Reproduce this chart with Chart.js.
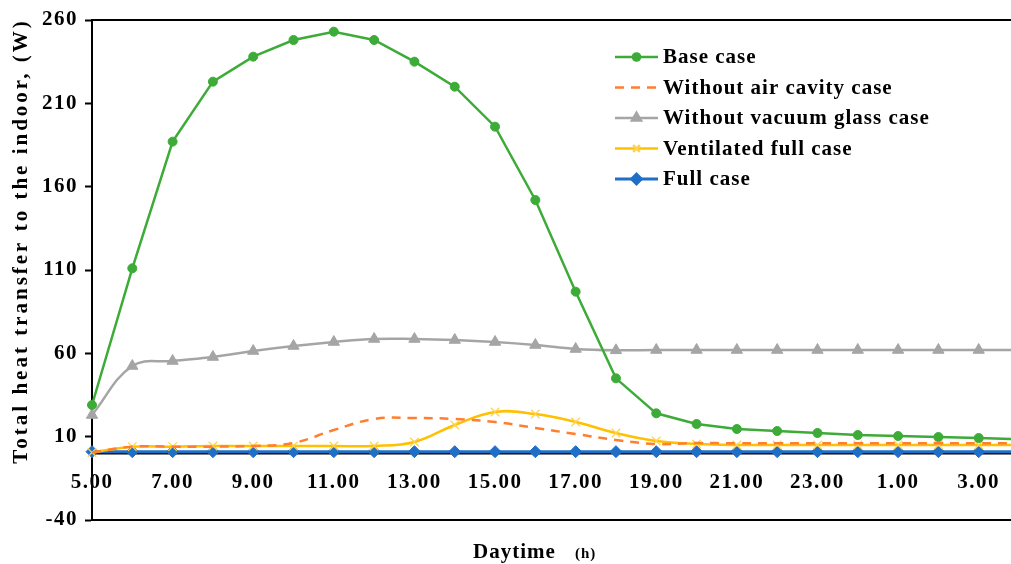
<!DOCTYPE html>
<html>
<head>
  <meta charset="UTF-8">
  <title>Total heat transfer to the indoor</title>
  <script src="https://cdn.jsdelivr.net/npm/chart.js"></script>
  <style>
    body {
      margin: 0;
      background: #fff;
      overflow: hidden;
    }
    #wrap {
      width: 1036px;
      height: 564px;
    }
  </style>
</head>
<body>
  <div id="wrap"><canvas id="chart" width="1036" height="564"></canvas></div>

  <script>
    // hourly points, 5.00 through 4.00 next morning
    const hours = ['5.00', '6.00', '7.00', '8.00', '9.00', '10.00', '11.00', '12.00', '13.00', '14.00',
      '15.00', '16.00', '17.00', '18.00', '19.00', '20.00', '21.00', '22.00', '23.00', '0.00',
      '1.00', '2.00', '3.00', '4.00'];

    const baseCase = [29, 111, 187, 223, 238, 248, 253, 248, 235, 220, 196, 152,
      97, 45, 24, 17.6, 14.6, 13.4, 12.2, 11, 10.4, 9.8, 9.2, 8.5];
    const noAirCavity = [0.5, 4, 4, 4, 4.4, 6.2, 14, 20.6, 21.2, 20.6, 18.8, 15.2,
      11.6, 8, 5.6, 6.2, 6, 6, 6, 6, 6, 6, 6, 6];
    const noVacuumGlass = [23, 52.4, 55.4, 57.8, 61.4, 64.4, 66.8, 68.6, 68.6, 68, 66.8, 65,
      62.6, 61.8, 62, 62, 62, 62, 62, 62, 62, 62, 62, 62];
    const ventilatedFull = [0.5, 4, 4, 4.4, 4.4, 4.4, 4.4, 4.4, 6.8, 17, 24.8, 23.6,
      18.8, 12.2, 7.4, 5.6, 5, 5, 5, 5, 5, 5, 5, 5];
    const fullCase = [1, 1, 1, 1, 1, 1, 1, 1, 1, 1, 1, 1,
      1, 1, 1, 1, 1, 1, 1, 1, 1, 1, 1, 1];

    const yTicks = { min: -40, max: 260, step: 50 };
    const yTitle = 'Total heat transfer to the indoor, (W)';
    const serif = '"Liberation Serif", "Times New Roman", serif';

    // the original uses wide, slightly spaced Times lettering
    const spacingPlugin = {
      id: 'spacing',
      beforeDraw(chart) { chart.ctx.letterSpacing = '1.5px'; },
      afterDraw(chart) { chart.ctx.letterSpacing = '0px'; }
    };

    // top and bottom frame lines of the plot box
    const framePlugin = {
      id: 'frame',
      beforeDatasetsDraw(chart) {
        const { ctx, chartArea } = chart;
        ctx.save();
        ctx.strokeStyle = '#000';
        ctx.lineWidth = 2;
        ctx.beginPath();
        ctx.moveTo(chartArea.left, chartArea.top);
        ctx.lineTo(chart.width, chartArea.top);
        ctx.moveTo(chartArea.left, chartArea.bottom);
        ctx.lineTo(chart.width, chartArea.bottom);
        ctx.stroke();
        ctx.restore();
      }
    };

    // legend box drawn inside the plot, top right
    const legendPlugin = {
      id: 'innerLegend',
      afterDraw(chart) {
        const { ctx, chartArea } = chart;
        const x0 = chartArea.left + 523;
        chart.data.datasets.forEach((ds, i) => {
          const y = chartArea.top + 37 + i * 30.5;
          ctx.save();
          ctx.strokeStyle = ds.borderColor;
          ctx.lineWidth = ds.borderWidth;
          ctx.setLineDash(ds.borderDash || []);
          ctx.beginPath();
          ctx.moveTo(x0, y);
          ctx.lineTo(x0 + 43, y);
          ctx.stroke();
          ctx.setLineDash([]);
          if (ds.pointRadius > 0) {
            ctx.fillStyle = ds.pointBackgroundColor;
            ctx.strokeStyle = ds.pointBorderColor;
            Chart.helpers.drawPoint(ctx, {
              pointStyle: ds.pointStyle,
              radius: ds.pointRadius * 0.8,
              borderWidth: ds.pointBorderWidth,
              rotation: 0
            }, x0 + 21.5, y);
          }
          ctx.fillStyle = '#000';
          ctx.font = 'bold 21px ' + serif;
          ctx.letterSpacing = '1px';
          ctx.textAlign = 'left';
          ctx.textBaseline = 'middle';
          ctx.fillText(ds.label, x0 + 48, y + 1);
          ctx.restore();
        });
      }
    };

    // axis titles
    const titlePlugin = {
      id: 'titles',
      afterDraw(chart) {
        const ctx = chart.ctx;
        ctx.save();
        ctx.fillStyle = '#000';
        ctx.font = 'bold 21px ' + serif;
        ctx.letterSpacing = '3px';
        ctx.textAlign = 'center';
        ctx.textBaseline = 'middle';
        ctx.translate(22, 241);
        ctx.rotate(-Math.PI / 2);
        ctx.fillText(yTitle, 0, 0);
        ctx.restore();

        ctx.save();
        ctx.fillStyle = '#000';
        ctx.textAlign = 'left';
        ctx.textBaseline = 'alphabetic';
        ctx.letterSpacing = '1px';
        ctx.font = 'bold 21px ' + serif;
        ctx.fillText('Daytime', 473, 558);
        ctx.font = 'bold 15px ' + serif;
        ctx.fillText('(h)', 575, 558);
        ctx.restore();
      }
    };

    const ctx = document.getElementById('chart').getContext('2d');
    new Chart(ctx, {
      type: 'line',
      data: {
        labels: hours,
        datasets: [
          {
            label: 'Base case',
            data: baseCase,
            borderColor: '#3dab37',
            borderWidth: 2.5,
            pointStyle: 'circle',
            pointRadius: 4.5,
            pointBackgroundColor: '#3dab37',
            pointBorderColor: '#3dab37',
            pointBorderWidth: 1,
            tension: 0
          },
          {
            label: 'Without air cavity case',
            data: noAirCavity,
            borderColor: '#ff7f2e',
            borderWidth: 2.5,
            borderDash: [9, 7],
            pointRadius: 0,
            tension: 0.4
          },
          {
            label: 'Without vacuum glass case',
            data: noVacuumGlass,
            borderColor: '#a5a5a5',
            borderWidth: 2.5,
            pointStyle: 'triangle',
            pointRadius: 6.5,
            pointBackgroundColor: '#a5a5a5',
            pointBorderColor: '#a5a5a5',
            pointBorderWidth: 1,
            tension: 0.4
          },
          {
            label: 'Ventilated full case',
            data: ventilatedFull,
            borderColor: '#ffc000',
            borderWidth: 2.5,
            pointStyle: 'crossRot',
            pointRadius: 6,
            pointBackgroundColor: '#ffd24d',
            pointBorderColor: '#ffd24d',
            pointBorderWidth: 1.2,
            tension: 0.4
          },
          {
            label: 'Full case',
            data: fullCase,
            borderColor: '#1f6fc8',
            borderWidth: 3,
            pointStyle: 'rectRot',
            pointRadius: 6,
            pointBackgroundColor: '#1f6fc8',
            pointBorderColor: '#1f6fc8',
            pointBorderWidth: 1,
            tension: 0
          }
        ]
      },
      options: {
        responsive: false,
        animation: false,
        devicePixelRatio: 1,
        layout: {
          autoPadding: false,
          padding: { left: 0, top: 20, right: 5, bottom: 44 }
        },
        plugins: {
          legend: { display: false },
          tooltip: { enabled: false }
        },
        scales: {
          x: {
            type: 'category',
            position: { y: 0 },
            offset: false,
            grid: { display: true, drawOnChartArea: false, drawTicks: false },
            border: { display: true, color: '#000', width: 2.5 },
            ticks: {
              autoSkip: false,
              maxRotation: 0,
              padding: 17,
              color: '#000',
              font: { family: serif, size: 21, weight: 'bold' },
              callback: (v, i) => (i % 2 === 0 ? hours[i] : '')
            }
          },
          y: {
            min: yTicks.min,
            max: yTicks.max,
            afterFit: (scale) => { scale.width = 92; },
            grid: {
              display: true,
              drawOnChartArea: false,
              drawTicks: true,
              tickLength: 7,
              tickWidth: 2,
              tickColor: '#000'
            },
            border: { display: true, color: '#000', width: 2 },
            ticks: {
              stepSize: yTicks.step,
              padding: 7,
              color: '#000',
              font: { family: serif, size: 21, weight: 'bold' }
            }
          }
        }
      },
      plugins: [spacingPlugin, framePlugin, legendPlugin, titlePlugin]
    });
  </script>
</body>
</html>
